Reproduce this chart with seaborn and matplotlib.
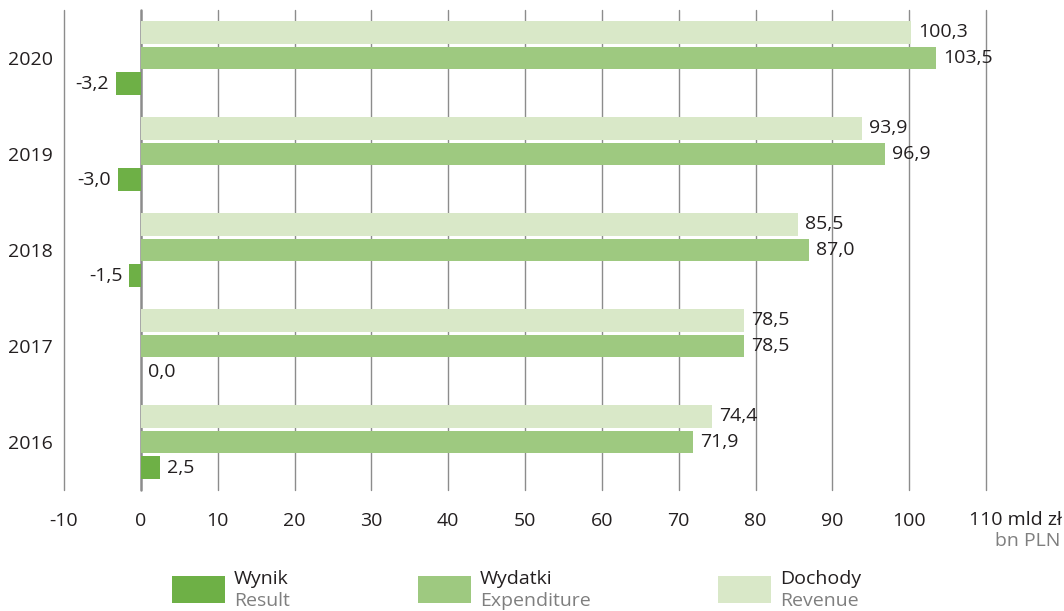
import numpy as np
import pandas as pd
import matplotlib.pyplot as plt
import seaborn as sns
from matplotlib.patches import Rectangle

# --- data (top to bottom as in the chart) ---
years = ["2020", "2019", "2018", "2017", "2016"]
dochody = [100.3, 93.9, 85.5, 78.5, 74.4]   # Revenue
wydatki = [103.5, 96.9, 87.0, 78.5, 71.9]   # Expenditure
wynik = [-3.2, -3.0, -1.5, 0.0, 2.5]        # Result
series = ["Dochody", "Wydatki", "Wynik"]
series_en = ["Revenue", "Expenditure", "Result"]
x_ticks = list(range(-10, 111, 10))

COLORS = {"Wynik": "#6EB046", "Wydatki": "#9EC980", "Dochody": "#D9E8C8"}
GRID = "#8C8C8C"
TEXT = "#231F20"
GREY = "#7F7F7F"

sns.set_theme(style="white")
plt.rcParams["font.family"] = ["Open Sans", "DejaVu Sans"]

df = pd.DataFrame({
    "year": years * 3,
    "value": dochody + wydatki + wynik,
    "series": np.repeat(series, len(years)),
})

fig = plt.figure(figsize=(10.64, 6.11), dpi=100)
ax = fig.add_axes([64 / 1064, 1 - 490 / 611, 922 / 1064, 480 / 611])

# gridlines behind bars
for t in x_ticks:
    ax.axvline(t, color=GRID, lw=1.8 if t == 0 else 1.0, zorder=0, clip_on=False)

sns.barplot(data=df, y="year", x="value", hue="series", order=years,
            hue_order=series, palette=COLORS, orient="h", width=0.8,
            gap=0.12, saturation=1, legend=False, ax=ax, zorder=2, linewidth=0)

for cont, name in zip(ax.containers, series):
    vals = df.loc[df["series"] == name, "value"].tolist()
    ax.bar_label(cont, labels=[f"{v:.1f}".replace(".", ",") for v in vals],
                 padding=5, fontsize=14, color=TEXT)

ax.set_xlim(-10, 110)
ax.set_ylim(4.5, -0.5)
ax.set_xticks(x_ticks)
ax.set_xticklabels([str(t) for t in x_ticks[:-1]] + [""])
ax.tick_params(axis="x", length=0, pad=16, labelsize=14, labelcolor=TEXT)
ax.tick_params(axis="y", length=0, pad=8, labelsize=14, labelcolor=TEXT)
ax.set_xlabel("")
ax.set_ylabel("")
for s in ax.spines.values():
    s.set_visible(False)

# unit label at the 110 tick
ax.text(969 / 1064, 1 - 520 / 611, "110 mld zł", transform=fig.transFigure,
        ha="left", va="center", fontsize=14, color=TEXT)
ax.text(1060 / 1064, 1 - 541 / 611, "bn PLN", transform=fig.transFigure,
        ha="right", va="center", fontsize=14, color=GREY)

# legend below
legend_x = [172, 418, 718]
for x0, name, en in zip(legend_x, ["Wynik", "Wydatki", "Dochody"],
                        ["Result", "Expenditure", "Revenue"]):
    fig.add_artist(Rectangle((x0 / 1064, 1 - 603 / 611), 53 / 1064, 27 / 611,
                             transform=fig.transFigure, color=COLORS[name], lw=0))
    fig.text((x0 + 62) / 1064, 1 - 579 / 611, name, ha="left", va="center",
             fontsize=14, color=TEXT)
    fig.text((x0 + 62) / 1064, 1 - 601 / 611, en, ha="left", va="center",
             fontsize=14, color=GREY)

fig.savefig("out.png", dpi=100)
